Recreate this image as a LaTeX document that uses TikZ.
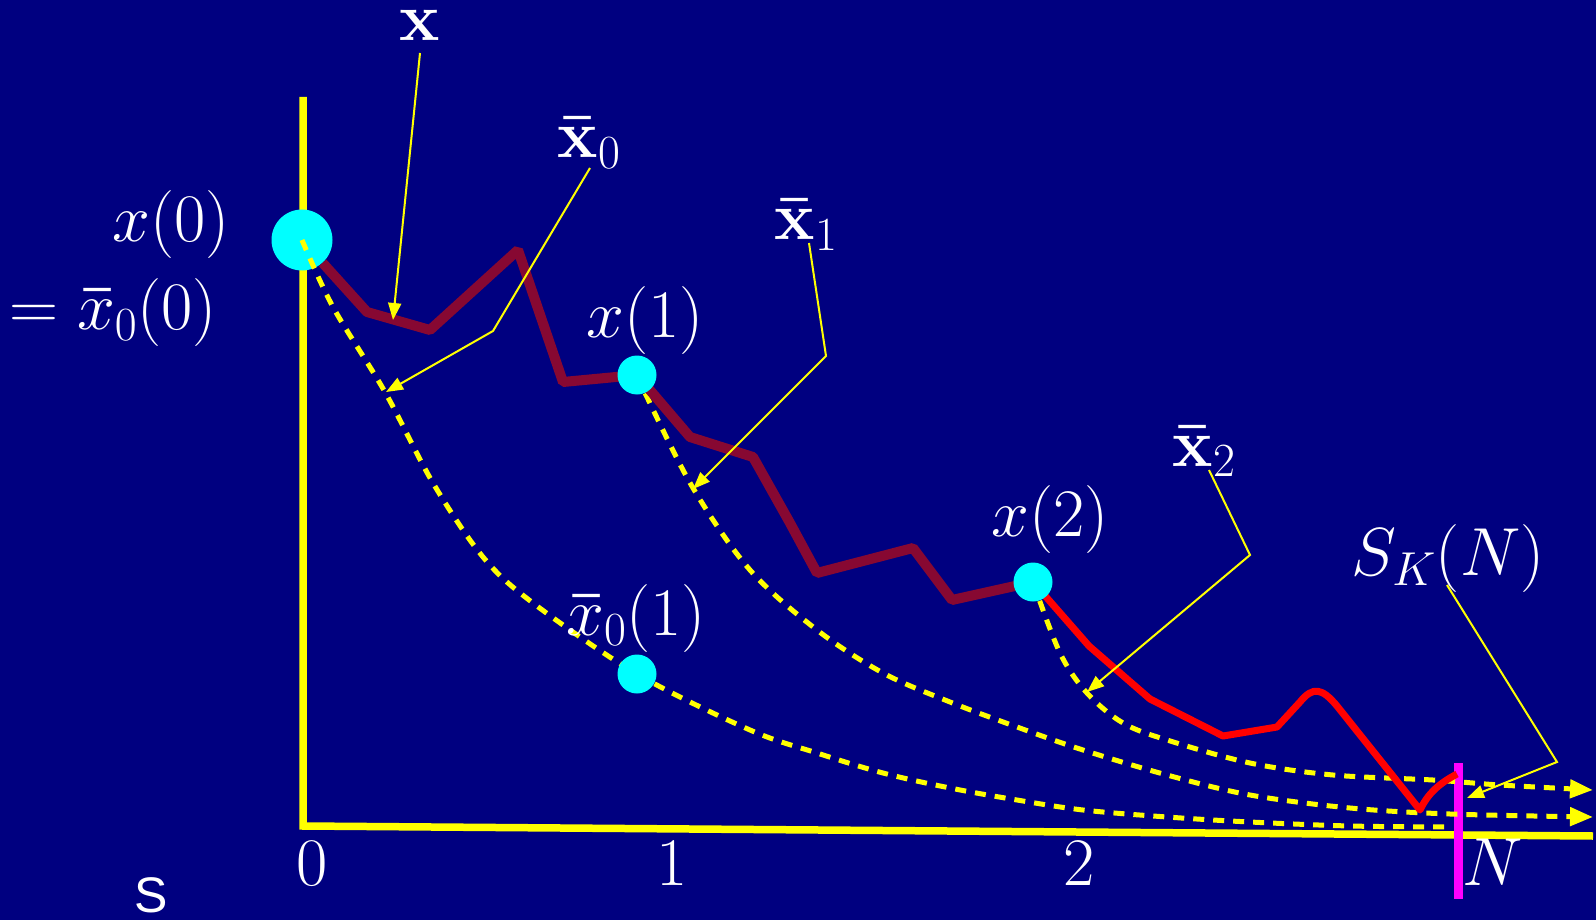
\RequirePackage{fix-cm}
\documentclass[tikz,border=0pt]{standalone}
\usepackage[no-math]{fontspec}
\newfontfamily\sansS{Liberation Sans}
\usetikzlibrary{arrows.meta}
\definecolor{bgnavy}{RGB}{0,0,128}
\definecolor{darkpath}{RGB}{135,8,50}
\definecolor{dotcyan}{RGB}{0,255,255}
\definecolor{axisyellow}{RGB}{255,255,0}
\definecolor{horizonmag}{RGB}{255,0,255}
\definecolor{predred}{RGB}{255,0,0}
\begin{document}
\begin{tikzpicture}[x=1pt,y=-1pt,
  lab/.style={text=white,inner sep=0pt,font=\fontsize{68}{74}\selectfont},
  axisline/.style={axisyellow,line width=7.5pt},
  guess/.style={axisyellow,line width=5pt,dash pattern=on 11pt off 9pt,-{Triangle[length=23pt,width=18pt]}},
  guessnotip/.style={axisyellow,line width=5pt,dash pattern=on 11pt off 9pt},
  ann/.style={axisyellow,line width=2pt,-{Triangle[length=17pt,width=13pt]}},
  dot/.style={circle,fill=dotcyan,inner sep=0pt,minimum size=39pt},
  truepath/.style={darkpath,line width=10pt,line join=bevel},
  predpath/.style={predred,line width=7pt,line join=round}
]
\fill[bgnavy] (0,0) rectangle (1596,920);
\useasboundingbox (0,0) rectangle (1596,920);
% axes
\coordinate (ytop) at (303,97);
\coordinate (orig) at (303,826);
\coordinate (xend) at (1593,836);
\draw[axisline] (ytop) -- (orig) -- (xend);
% horizon N
\coordinate (ntop) at (1458,763);
\coordinate (nbot) at (1458,899);
\draw[horizonmag,line width=9pt] (ntop) -- (nbot);
% initial state
\node[dot,minimum size=61pt] (c0) at (302,240) {};
\coordinate (p1) at (637,375);
\coordinate (p2) at (1033,582);
\coordinate (p01) at (637,674);
% predicted trajectories
\draw[guessnotip] plot[smooth,tension=0.55] coordinates {(c0.center) (333,307) (385,392) (433,483) (483,557) (533,603) (p01) (750,730) (817,753) (883,773) (950,788) (1017,800) (1083,810) (1167,817) (1250,822) (1350,826) (1447,827)};
\draw[guess] plot[smooth,tension=0.55] coordinates {(p1) (645,393) (693,488) (750,570) (817,630) (883,673) (950,702) (1017,727) (1083,750) (1167,775) (1250,795) (1350,808) (1450,814) (1593,817)};
\draw[guess] plot[smooth,tension=0.55] coordinates {(p2) (1060,653) (1087,693) (1123,723) (1167,740) (1250,763) (1333,775) (1433,780) (1500,785) (1593,790)};
% actual trajectory
\draw[truepath] (c0.-48) -- (367,312) -- (430,330) -- (518,250) -- (563,382) -- (p1)
  -- (690,437) -- (753,457) -- (790,523) -- (817,573) -- (913,548) -- (952,600) -- (p2);
\draw[predpath] (p2) -- (1089,646) -- (1150,699) -- (1223,736) -- (1277,727) -- (1300,702)
  .. controls (1313,686) and (1322,688) .. (1337,706) -- (1420,810)
  .. controls (1428,793) and (1440,783) .. (1457,774);
% sampled states
\node[dot] (d1) at (p1) {};
\node[dot] (d2) at (p2) {};
\node[dot] (d01) at (p01) {};
% annotation connectors
\coordinate (xs) at (420,53);   \coordinate (xt) at (393,320);
\coordinate (x0s) at (590,168); \coordinate (x0b) at (493,331); \coordinate (x0t) at (386,392);
\coordinate (x1s) at (809,243); \coordinate (x1b) at (826,356); \coordinate (x1t) at (693,489);
\coordinate (x2s) at (1209,470); \coordinate (x2b) at (1250,555); \coordinate (x2t) at (1087,692);
\coordinate (sks) at (1447,585); \coordinate (skb) at (1557,762); \coordinate (skt) at (1467,798);
\draw[ann] (xs) -- (xt);
\draw[ann] (x0s) -- (x0b) -- (x0t);
\draw[ann] (x1s) -- (x1b) -- (x1t);
\draw[ann] (x2s) -- (x2b) -- (x2t);
\draw[ann] (sks) -- (skb) -- (skt);
% labels
\node[lab,anchor=base] (lx) at (420,41) {$\mathbf{x}$};
\node[lab,anchor=base] (lxb0) at (589,158) {$\mathbf{\bar{x}}_0$};
\node[lab,anchor=base] (lxb1) at (806,240) {$\mathbf{\bar{x}}_1$};
\node[lab,anchor=base] (lxb2) at (1204,466) {$\mathbf{\bar{x}}_2$};
\node[lab] (lx0) at (171,225) {$x(0)$};
\node[lab] (leq) at (113,313) {$=\mathbf{\bar{\mathnormal{x}}}_0(0)$};
\node[lab] (lx1) at (645,321) {$x(1)$};
\node[lab] (lx2) at (1050,519) {$x(2)$};
\node[lab] (lxb01) at (636,618) {$\mathbf{\bar{\mathnormal{x}}}_0(1)$};
\node[lab] (lsk) at (1448,558) {$S_K(N)$};
\node[lab,anchor=base] (t0) at (312,885) {$0$};
\node[lab,anchor=base] (t1) at (672,885) {$1$};
\node[lab,anchor=base] (t2) at (1079,885) {$2$};
\node[lab,anchor=base] (tN) at (1493,885) {$N$};
\node[text=white,inner sep=0pt,anchor=base,font=\sansS\fontsize{50}{60}\selectfont] (ls) at (151,912) {S};
\end{tikzpicture}
\end{document}
